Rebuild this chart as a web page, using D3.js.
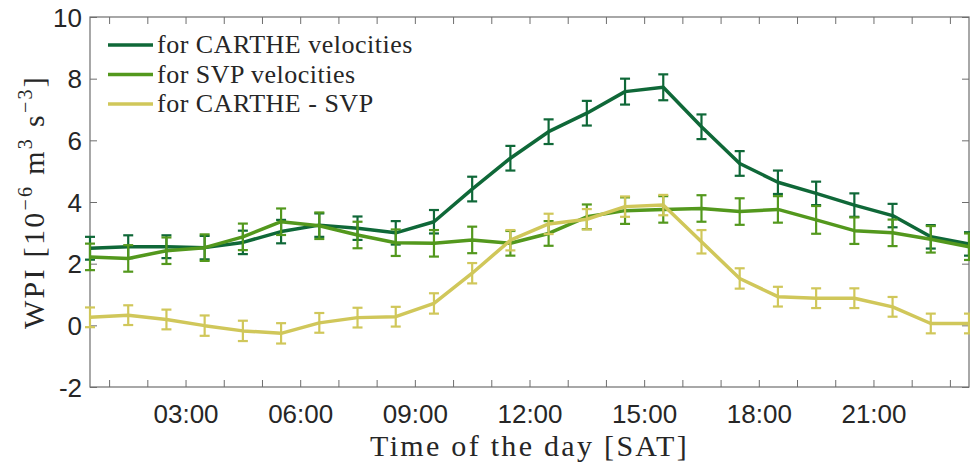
<!DOCTYPE html>
<html>
<head>
<meta charset="utf-8">
<script src="https://cdn.jsdelivr.net/npm/d3@7"></script>
<style>
  html, body { margin: 0; padding: 0; background: #ffffff; }
  svg { display: block; }
</style>
</head>
<body>
<svg id="chart" width="970" height="463"></svg>
<script>
// ---- data (hours of the day, half-hour centred bins) ----
const hours = [0.5,1.5,2.5,3.5,4.5,5.5,6.5,7.5,8.5,9.5,10.5,11.5,12.5,13.5,14.5,15.5,16.5,17.5,18.5,19.5,20.5,21.5,22.5,23.5];
const tickHours = [1,2,3,4,5,6,7,8,9,10,11,12,13,14,15,16,17,18,19,20,21,22,23];
const labelHours = [3,6,9,12,15,18,21];
const yTicks = [-2,0,2,4,6,8,10];

const seriesNames = ["for CARTHE velocities", "for SVP velocities", "for CARTHE - SVP"];
const carthe = [2.50,2.55,2.55,2.52,2.69,3.04,3.25,3.15,3.00,3.36,4.42,5.42,6.28,6.88,7.58,7.72,6.44,5.25,4.64,4.28,3.90,3.56,2.87,2.64];
const cartheErr = [0.37,0.37,0.37,0.38,0.38,0.38,0.38,0.38,0.38,0.38,0.40,0.40,0.40,0.40,0.42,0.42,0.40,0.40,0.38,0.38,0.38,0.38,0.38,0.38];
const svp = [2.22,2.17,2.42,2.52,2.87,3.36,3.23,2.93,2.68,2.66,2.77,2.66,2.98,3.52,3.72,3.76,3.79,3.69,3.76,3.42,3.07,3.00,2.79,2.55];
const svpErr = [0.43,0.43,0.43,0.43,0.43,0.43,0.43,0.43,0.43,0.43,0.43,0.40,0.40,0.40,0.43,0.43,0.43,0.43,0.43,0.45,0.43,0.43,0.43,0.43];
const diff = [0.26,0.33,0.19,-0.01,-0.18,-0.26,0.08,0.25,0.28,0.71,1.69,2.76,3.29,3.44,3.85,3.90,2.71,1.52,0.93,0.88,0.88,0.60,0.06,0.06];
const diffErr = [0.32,0.32,0.32,0.33,0.33,0.33,0.32,0.32,0.32,0.33,0.33,0.33,0.33,0.33,0.33,0.33,0.38,0.33,0.32,0.32,0.32,0.32,0.32,0.32];

const colors = ["#0f6838", "#53981d", "#d0c75a"];

// ---- layout ----
const svg = d3.select("#chart");
const mLeft = 90, mRight = 969, mTop = 17, mBottom = 387;

const x = d3.scaleLinear().domain([0.5, 23.5]).range([mLeft, mRight]);
const y = d3.scaleLinear().domain([-2, 10]).range([mBottom, mTop]);

const axisColor = "#6e6e6e";
const textColor = "#262626";

// axes (MATLAB style box, inward ticks)
const gx = svg.append("g").attr("transform", `translate(0,${mBottom})`)
  .call(d3.axisBottom(x).tickValues(tickHours).tickSizeInner(-7).tickSizeOuter(0)
    .tickFormat(d => labelHours.includes(d) ? String(d).padStart(2, "0") + ":00" : ""));
gx.select(".domain").remove();
gx.selectAll("line").attr("stroke", axisColor).attr("stroke-width", 1);
gx.selectAll("text").attr("fill", textColor).attr("font-family", "Liberation Sans, Arial, sans-serif")
  .attr("font-size", 26).attr("dy", null).attr("y", 36);

const gxt = svg.append("g").attr("transform", `translate(0,${mTop})`)
  .call(d3.axisTop(x).tickValues(tickHours).tickSizeInner(-7).tickSizeOuter(0).tickFormat(""));
gxt.select(".domain").remove();
gxt.selectAll("line").attr("stroke", axisColor);

const gy = svg.append("g").attr("transform", `translate(${mLeft},0)`)
  .call(d3.axisLeft(y).tickValues(yTicks).tickSizeInner(-7).tickSizeOuter(0).tickFormat(d => String(d)));
gy.select(".domain").remove();
gy.selectAll("line").attr("stroke", axisColor);
gy.selectAll("text").attr("fill", textColor).attr("font-family", "Liberation Sans, Arial, sans-serif")
  .attr("font-size", 26).attr("x", -8).attr("dy", "0.35em");

const gyr = svg.append("g").attr("transform", `translate(${mRight},0)`)
  .call(d3.axisRight(y).tickValues(yTicks).tickSizeInner(-7).tickSizeOuter(0).tickFormat(""));
gyr.select(".domain").remove();
gyr.selectAll("line").attr("stroke", axisColor);

svg.append("rect").attr("x", mLeft).attr("y", mTop).attr("width", mRight - mLeft).attr("height", mBottom - mTop)
  .attr("fill", "none").attr("stroke", axisColor).attr("stroke-width", 1.2);

// ---- series ----
const allSeries = [
  {vals: carthe, err: cartheErr, color: colors[0]},
  {vals: svp, err: svpErr, color: colors[1]},
  {vals: diff, err: diffErr, color: colors[2]}
];
const line = d3.line().x(d => x(d.h)).y(d => y(d.v));
const plotG = svg.append("g");
allSeries.forEach(s => {
  const pts = hours.map((h, i) => ({h, v: s.vals[i], e: s.err[i]}));
  const g = plotG.append("g");
  g.append("path").datum(pts).attr("d", line).attr("fill", "none")
    .attr("stroke", s.color).attr("stroke-width", 3.5).attr("stroke-linejoin", "round");
  const eb = g.selectAll("g.eb").data(pts).join("g").attr("stroke", s.color).attr("stroke-width", 2.2);
  eb.append("line").attr("x1", d => x(d.h)).attr("x2", d => x(d.h))
    .attr("y1", d => y(d.v - d.e)).attr("y2", d => y(d.v + d.e));
  eb.append("line").attr("x1", d => x(d.h) - 5).attr("x2", d => x(d.h) + 5)
    .attr("y1", d => y(d.v + d.e)).attr("y2", d => y(d.v + d.e));
  eb.append("line").attr("x1", d => x(d.h) - 5).attr("x2", d => x(d.h) + 5)
    .attr("y1", d => y(d.v - d.e)).attr("y2", d => y(d.v - d.e));
});

// ---- legend ----
const serif = "Liberation Serif, Times New Roman, serif";
const leg = svg.append("g");
seriesNames.forEach((name, i) => {
  const yy = 45 + i * 29.5;
  leg.append("line").attr("x1", 108).attr("x2", 153).attr("y1", yy).attr("y2", yy)
    .attr("stroke", colors[i]).attr("stroke-width", 3.5);
  leg.append("text").attr("x", 157).attr("y", yy + 8).attr("font-family", serif).attr("font-size", 26)
    .attr("letter-spacing", 0.5).attr("fill", textColor).text(name);
});

// ---- axis labels ----
svg.append("text").attr("x", (mLeft + mRight) / 2).attr("y", 456).attr("text-anchor", "middle")
  .attr("font-family", serif).attr("font-size", 30).attr("letter-spacing", 2.3)
  .attr("fill", textColor).text("Time of the day [SAT]");

const yl = svg.append("text").attr("transform", `translate(44,${(mTop + mBottom) / 2}) rotate(-90)`)
  .attr("text-anchor", "middle").attr("font-family", serif).attr("font-size", 30)
  .attr("letter-spacing", 2.3).attr("fill", textColor);
yl.append("tspan").text("WPI [10");
yl.append("tspan").attr("dy", -12).attr("font-size", 20).text("\u22126");
yl.append("tspan").attr("dy", 12).text(" m");
yl.append("tspan").attr("dy", -12).attr("font-size", 20).text("3");
yl.append("tspan").attr("dy", 12).text(" s");
yl.append("tspan").attr("dy", -12).attr("font-size", 20).text("\u22123");
yl.append("tspan").attr("dy", 12).text("]");
</script>
</body>
</html>
